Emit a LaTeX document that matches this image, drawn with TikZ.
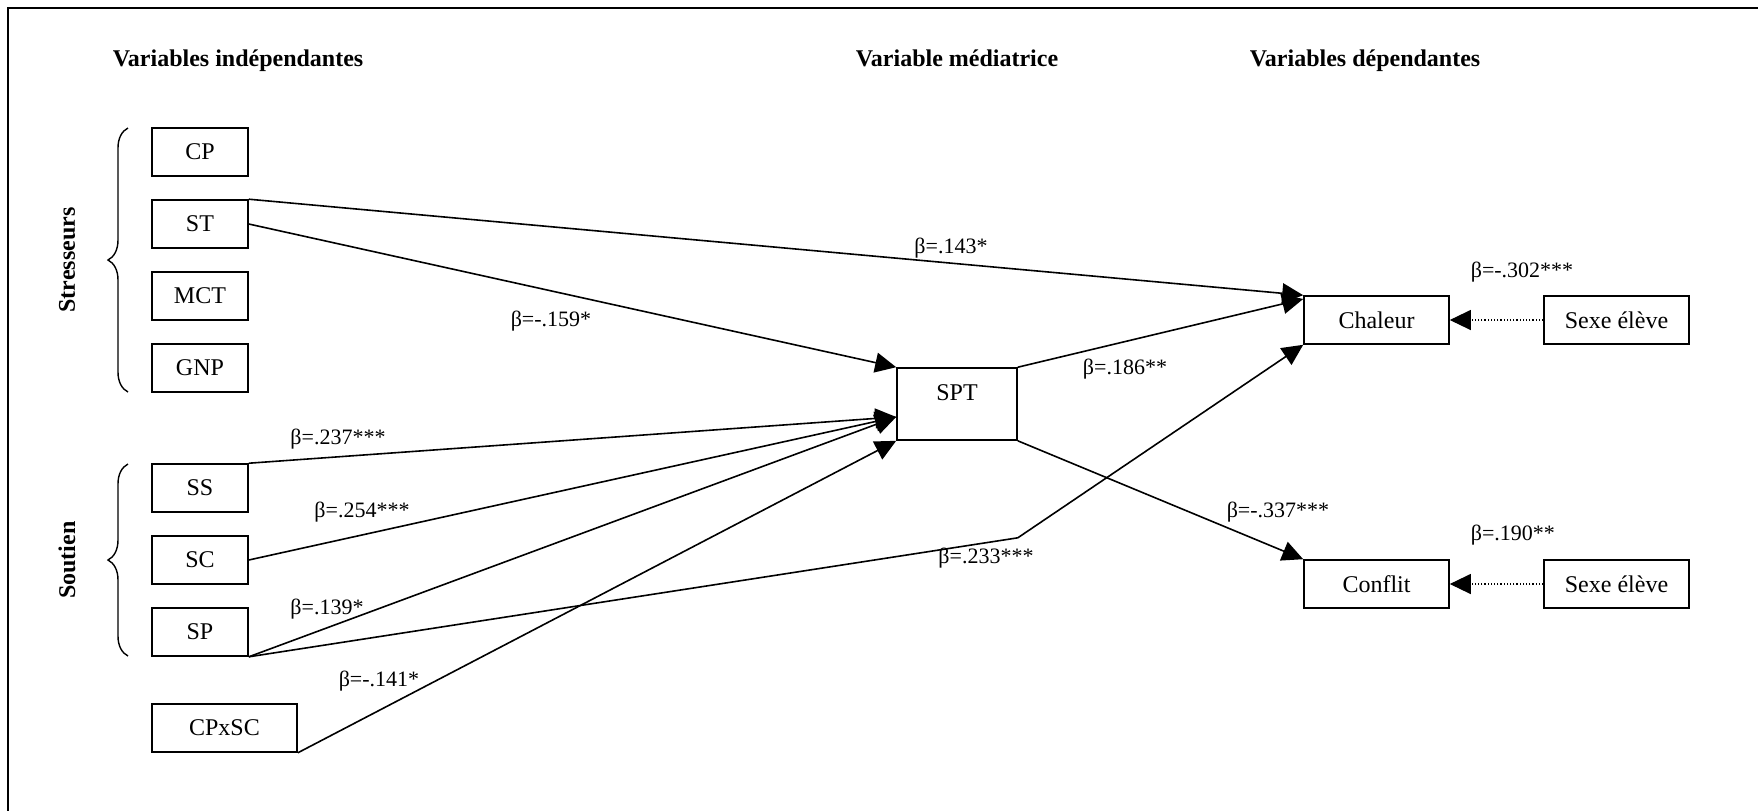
\documentclass[tikz,border=0pt]{standalone}
\usepackage{fontspec}
\setmainfont{Liberation Serif}
\usetikzlibrary{arrows.meta,decorations.pathreplacing}

\begin{document}
\begin{tikzpicture}[%
      x=0.5pt, y=-0.5pt,
      line width=0.8pt,
      var/.style={draw, font=\fontsize{12}{14}\selectfont, inner sep=0pt,
        minimum width=48pt, minimum height=24pt},
      wide/.style={var, minimum width=72.5pt},
      head/.style={anchor=base west, inner sep=0pt, font=\fontsize{12}{14}\selectfont\bfseries},
      group/.style={rotate=90, font=\fontsize{12}{14}\selectfont\bfseries},
      coef/.style={font=\fontsize{11}{13}\selectfont, inner sep=1pt},
      effet/.style={-{Triangle[length=10.5pt,width=10pt]}},
      sexe/.style={effet, line width=0.6pt, densely dotted},
      accol/.style={decorate, decoration={brace, amplitude=10pt}, line width=0.7pt},
      ]
      \useasboundingbox (0,0) rectangle (1758,811);
      \draw [line width=1.2pt] (1758,8) -- (8,8) -- (8,811);

      \node [head] (hind) at (112,66) {Variables indépendantes};
      \node [head] (hmed) at (855,66) {Variable médiatrice};
      \node [head] (hdep) at (1249,66) {Variables dépendantes};

      % stresseurs
      \node [var] (cp)  at (200,152) {CP};
      \node [var] (st)  at (200,224) {ST};
      \node [var] (mct) at (200,296) {MCT};
      \node [var] (gnp) at (200,368) {GNP};
      \draw [accol] (128,392) -- (128,128);
      \node [group] (gstr) at (67,260) {Stresseurs};

      % soutien
      \node [var] (ss) at (200,488) {SS};
      \node [var] (sc) at (200,560) {SC};
      \node [var] (sp) at (200,632) {SP};
      \draw [accol] (128,656) -- (128,464);
      \node [group] (gsou) at (67,560) {Soutien};

      \node [wide] (cpxsc) at (224.5,728) {CPxSC};

      \node [var, minimum width=60pt, minimum height=36pt, text depth=11pt] (spt) at (957,404) {SPT};

      \node [wide] (chaleur) at (1376.5,320) {Chaleur};
      \node [wide] (conflit) at (1376.5,584) {Conflit};
      \node [wide] (sexea) at (1616.5,320) {Sexe élève};
      \node [wide] (sexeb) at (1616.5,584) {Sexe élève};

      \coordinate (knee) at ([yshift=-48.5pt]spt.south east);

      \draw [effet] (st.north east) -- (chaleur.north west);
      \draw [effet] (st.east) -- (spt.north west);
      \draw [effet] (ss.north east) -- (spt.192);
      \draw [effet] (sc.east) -- (spt.192);
      \draw [effet] (sp.south east) -- (spt.192);
      \draw [effet] (sp.south east) -- (knee) -- (chaleur.south west);
      \draw [effet] (cpxsc.south east) -- (spt.south west);
      \draw [effet] (spt.north east) -- (chaleur.164);
      \draw [effet] (spt.south east) -- (conflit.north west);

      \draw [sexe] (sexea.west) -- (chaleur.east);
      \draw [sexe] (sexeb.west) -- (conflit.east);

      \node [coef] (b143) at (951,248) {β=.143*};
      \node [coef] (b159) at (551,321) {β=-.159*};
      \node [coef] (b237) at (338,439) {β=.237***};
      \node [coef] (b254) at (362,512) {β=.254***};
      \node [coef] (b139) at (327,609) {β=.139*};
      \node [coef] (b141) at (379,681) {β=-.141*};
      \node [coef] (b186) at (1125,369) {β=.186**};
      \node [coef] (b233) at (986,558) {β=.233***};
      \node [coef] (b337) at (1278,512) {β=-.337***};
      \node [coef, anchor=west] (b302) at (1468,272) {β=-.302***};
      \node [coef, anchor=west] (b190) at (1468,535) {β=.190**};
\end{tikzpicture}
\end{document}
